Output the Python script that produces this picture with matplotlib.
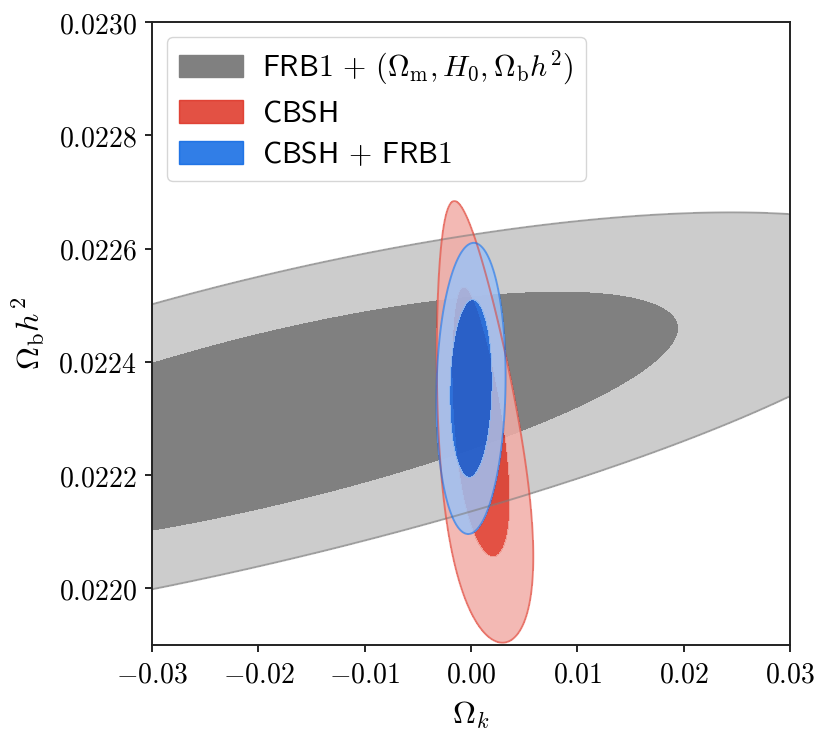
import numpy as np
import matplotlib
matplotlib.use("Agg")
import matplotlib.pyplot as plt
from matplotlib.patches import Patch
from matplotlib.ticker import FuncFormatter

plt.rcParams['mathtext.fontset'] = 'cm'
plt.rcParams['font.family'] = ['DejaVu Sans']

# chi2 levels for the 68% and 95% regions of a 2D distribution
levels = [2.30, 6.17]

# FRB1 + (Om, H0, Obh2): broad band, mean of Obh2 bends with Omega_k
frb_x_mean = -0.0187
frb_x_sigma = 0.0252
frb_y_poly = [-0.00556, 0.004167, 0.02238]
frb_y_sigma = 0.000103

# CBSH: tilted, widening towards low Obh2
cbsh_x_mean = 0.0007
cbsh_y_mean = 0.022294
cbsh_x_sigma = 0.00153
cbsh_y_sigma = 0.000157
cbsh_tilt = -5.8
cbsh_skew = -0.15

# CBSH + FRB1: near-gaussian
joint_mean = [0.0, 0.022353]
joint_sigma = [0.00131, 0.0001035]
joint_rho = 0.08

labels = [r'$\mathsf{FRB1}\,+\,(\Omega_{\rm m}, H_0, \Omega_{\rm b}h^2)$',
          r'$\mathsf{CBSH}$',
          r'$\mathsf{CBSH}\,+\,\mathsf{FRB1}$']
colors = ['#808080', '#de3223', '#0d67e3']

xticks = [-0.03, -0.02, -0.01, 0.0, 0.01, 0.02, 0.03]
yticks = [0.0220, 0.0222, 0.0224, 0.0226, 0.0228, 0.0230]


def chi2_frb(X, Y):
    u = (X - frb_x_mean) / frb_x_sigma
    v = (Y - np.polyval(frb_y_poly, X)) / frb_y_sigma
    return u**2 + v**2


def chi2_cbsh(X, Y):
    v = (Y - cbsh_y_mean) / cbsh_y_sigma
    xc = cbsh_x_mean + cbsh_tilt * (Y - cbsh_y_mean)
    u = (X - xc) / (cbsh_x_sigma * np.exp(cbsh_skew * v))
    return u**2 + v**2


def chi2_joint(X, Y):
    dx = (X - joint_mean[0]) / joint_sigma[0]
    dy = (Y - joint_mean[1]) / joint_sigma[1]
    return (dx**2 - 2 * joint_rho * dx * dy + dy**2) / (1 - joint_rho**2)


def pale(c, f=0.6):
    rgb = np.array(matplotlib.colors.to_rgb(c))
    return tuple(rgb * (1 - f) + f)


x = np.linspace(-0.036, 0.036, 700)
y = np.linspace(0.0217, 0.0232, 700)
X, Y = np.meshgrid(x, y)

fig = plt.figure(figsize=(8.3, 7.5), dpi=100)
ax = fig.add_axes([152 / 830, 1 - 645 / 750, 638 / 830, 623 / 750])

fields = [chi2_frb(X, Y), chi2_cbsh(X, Y), chi2_joint(X, Y)]
alphas = [1.0, 0.85, 0.85]
for Z, c, a in zip(fields, colors, alphas):
    ax.contourf(X, Y, Z, levels=[0] + levels, colors=[c, pale(c)], alpha=a)
    ax.contour(X, Y, Z, levels=levels[1:], colors=[c], linewidths=1.4, alpha=0.6 * a)

ax.set_xlim(-0.03, 0.03)
ax.set_ylim(0.0219, 0.0230)
ax.set_xticks(xticks)
ax.set_yticks(yticks)
ax.xaxis.set_major_formatter(FuncFormatter(lambda v, p: r'$%.2f$' % v))
ax.yaxis.set_major_formatter(FuncFormatter(lambda v, p: r'$%.4f$' % v))
ax.tick_params(direction='out', length=5, width=1.2, labelsize=20, pad=6)
for s in ax.spines.values():
    s.set_linewidth(1.4)
    s.set_color('#222222')

ax.set_xlabel(r'$\Omega_k$', fontsize=23, labelpad=8)
ax.set_ylabel(r'$\Omega_{\rm b} h^2$', fontsize=23, labelpad=8)

handles = [Patch(facecolor=c, edgecolor=c, alpha=a) for c, a in zip(colors, alphas)]
ax.legend(handles, labels, loc='upper left', fontsize=21.5, handlelength=2.15,
          handleheight=0.78, labelspacing=0.4, handletextpad=0.65)

fig.savefig('out.png', dpi=100)
